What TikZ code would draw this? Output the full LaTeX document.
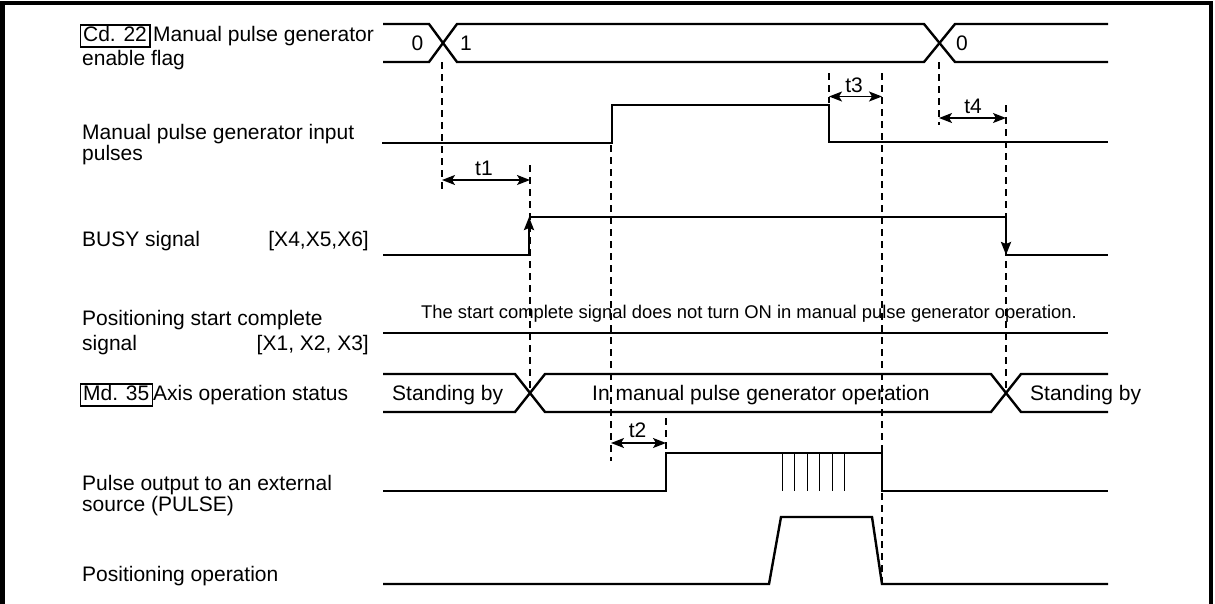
\documentclass[tikz,border=0pt]{standalone}
\usepackage{fontspec}
\setmainfont{Liberation Sans}
\usetikzlibrary{arrows.meta}
\begin{document}
\begin{tikzpicture}[x=1pt,y=-1pt,
  sig/.style={line width=2.4pt, line join=miter},
  burst/.style={line width=1pt},
  guideline/.style={line width=1.2pt, dash pattern=on 7pt off 5pt},
  dimarrow/.style={line width=1.4pt, {Stealth[length=13pt,width=10pt,inset=3pt]}-{Stealth[length=13pt,width=10pt,inset=3pt]}},
  busyedge/.style={line width=2.4pt, -{Stealth[length=13pt,width=10pt,inset=2pt]}},
  lbl/.style={font=\fontsize{21}{22}\selectfont, inner sep=0pt},
  notetext/.style={font=\fontsize{18.4}{20}\selectfont, inner sep=0pt},
  tagbox/.style={lbl, draw, line width=1.2pt, inner xsep=3pt, inner ysep=1.5pt, text height=15pt, text depth=4pt},
]
\useasboundingbox (0,0) rectangle (1215,603);
% frame (open at the bottom)
\draw[line width=4.6pt, line join=miter] (2.3,610) -- (2.3,3) -- (1211,3) -- (1211,610);

% ---------- left labels ----------
\node[tagbox, anchor=base west] (cd) at (79.5,41.5) {Cd. 22};
\node[lbl, anchor=base west] (cdA) at (153,41.5) {Manual pulse generator};
\node[lbl, anchor=base west] (cdB) at (82,65) {enable flag};
\node[lbl, anchor=base west] (inA) at (82,139) {Manual pulse generator input};
\node[lbl, anchor=base west] (inB) at (82,160) {pulses};
\node[lbl, anchor=base west] (busyA) at (82,246) {BUSY signal};
\node[lbl, anchor=base east] (busyB) at (369,246) {[X4,X5,X6]};
\node[lbl, anchor=base west] (pscA) at (82,325) {Positioning start complete};
\node[lbl, anchor=base west] (pscB) at (82,350) {signal};
\node[lbl, anchor=base east] (pscC) at (369,350) {[X1, X2, X3]};
\node[tagbox, anchor=base west] (md) at (79.5,400.5) {Md. 35};
\node[lbl, anchor=base west] (mdA) at (153,400.5) {Axis operation status};
\node[lbl, anchor=base west] (puA) at (82,490) {Pulse output to an external};
\node[lbl, anchor=base west] (puB) at (82,511) {source (PULSE)};
\node[lbl, anchor=base west] (poA) at (82,581) {Positioning operation};

% ---------- row 1: enable flag (bus) ----------
\draw[sig] (383,24) -- (429,24) -- (457,62) -- (924,62) -- (955,24) -- (1108,24);
\draw[sig] (383,62) -- (429,62) -- (457,24) -- (924,24) -- (955,62) -- (1108,62);
\node[lbl, anchor=base] (f0) at (417.5,50) {0};
\node[lbl, anchor=base] (f1) at (466,50) {1};
\node[lbl, anchor=base] (f0b) at (962,50) {0};

% ---------- row 2: input pulses ----------
\draw[sig] (382,143) -- (612,143) -- (612,105) -- (829,105) -- (829,142) -- (1108,142);

% ---------- row 3: BUSY ----------
\coordinate (bRiseLo) at (529,255);
\coordinate (bRiseHi) at (529,217);
\coordinate (bFallHi) at (1006,217);
\coordinate (bFallLo) at (1006,255);
\draw[sig] (383,255) -- (bRiseLo);
\draw[busyedge] (bRiseLo) -- (bRiseHi);
\draw[sig] (bRiseHi) -- (bFallHi);
\draw[busyedge] (bFallHi) -- (bFallLo);
\draw[sig] (bFallLo) -- (1108,255);

% ---------- row 4: positioning start complete ----------
\node[notetext, anchor=base] (note) at (749,318) {The start complete signal does not turn ON in manual pulse generator operation.};
\draw[sig] (383,333) -- (1108,333);

% ---------- row 5: axis operation status (bus) ----------
\draw[sig] (383,374) -- (515,374) -- (545,412) -- (991,412) -- (1021,374) -- (1108,374);
\draw[sig] (383,412) -- (515,412) -- (545,374) -- (991,374) -- (1021,412) -- (1108,412);
\node[lbl, anchor=base west] (sb1) at (392,400.5) {Standing by};
\node[lbl, anchor=base west] (op) at (592,400.5) {In manual pulse generator operation};
\node[lbl, anchor=base west] (sb2) at (1030,400.5) {Standing by};

% ---------- row 6: pulse output ----------
\draw[sig] (383,491) -- (666,491) -- (666,453) -- (882,453) -- (882,491) -- (1108,491);
\foreach \px in {782,794.5,807,819.5,832,844.5}
  \draw[burst] (\px,453) -- (\px,491);

% ---------- row 7: positioning operation ----------
\draw[sig] (383,584) -- (769,584) -- (781,517) -- (872,517) -- (882,584) -- (1108,584);

% ---------- timing guide lines ----------
\coordinate (g1t) at (442,62);   \coordinate (g1b) at (442,193);
\coordinate (g2t) at (530,165);  \coordinate (g2b) at (530,394);
\coordinate (g3t) at (611,145);  \coordinate (g3b) at (611,461);
\coordinate (g4t) at (666,418);  \coordinate (g4b) at (666,453);
\coordinate (g5t) at (829,73);   \coordinate (g5b) at (829,103);
\coordinate (g6t) at (882,73);   \coordinate (g6b) at (882,583);
\coordinate (g7t) at (939,62);   \coordinate (g7b) at (939,125);
\coordinate (g8t) at (1006,105); \coordinate (g8b) at (1006,394);
\foreach \g in {1,...,8}
  \draw[guideline] (g\g t) -- (g\g b);

% ---------- time intervals ----------
\coordinate (t1a) at (442,180);   \coordinate (t1b) at (530,180);
\coordinate (t2a) at (611,443);   \coordinate (t2b) at (666,443);
\coordinate (t3a) at (829,96.5);  \coordinate (t3b) at (882,96.5);
\coordinate (t4a) at (939,118);   \coordinate (t4b) at (1006,118);
\draw[dimarrow] (t1a) -- (t1b);
\draw[dimarrow] (t2a) -- (t2b);
\draw[dimarrow] (t3a) -- (t3b);
\draw[dimarrow] (t4a) -- (t4b);
\node[lbl, anchor=base] (t1) at (484,175) {t1};
\node[lbl, anchor=base] (t2) at (637.5,437) {t2};
\node[lbl, anchor=base] (t3) at (854,92) {t3};
\node[lbl, anchor=base] (t4) at (973,113) {t4};
\end{tikzpicture}
\end{document}
